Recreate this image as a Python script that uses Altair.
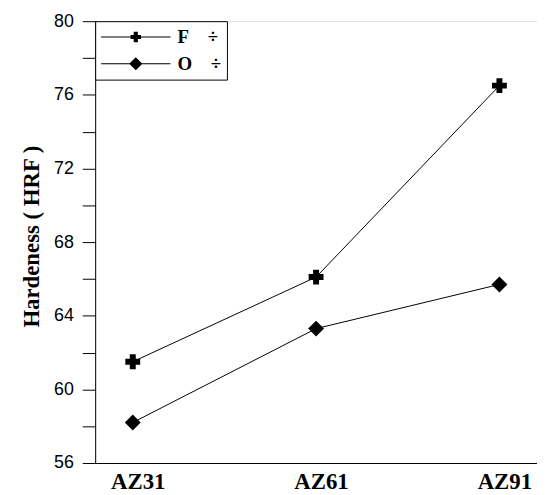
import altair as alt
import pandas as pd

NB = "\u00a0"
EN = "\u2002"
alloys = ["AZ31", "AZ61", "AZ91"]
f_vals = [61.5, 66.1, 76.5]
o_vals = [58.2, 63.3, 65.7]
series = ["F" + NB * 4 + "÷" + EN * 2 + ".", "O" + NB * 4 + "÷" + EN * 2 + "."]
y_ticks = list(range(56, 81, 2))

df = pd.DataFrame({
    "alloy": alloys * 2,
    "hardness": f_vals + o_vals,
    "series": [series[0]] * 3 + [series[1]] * 3,
})

CROSS = "M-1,-0.4H-0.4V-1H0.4V-0.4H1V0.4H0.4V1H-0.4V0.4H-1Z"
DIAMOND = "M-1.07,0L0,-1.07L1.07,0L0,1.07Z"
h = 0.016
LEG_CROSS = (f"M-1,-{h}H1V{h}H-1Z M-0.15,-0.06H-0.06V-0.15H0.06V-0.06H0.15V0.06H0.06V0.15H-0.06V0.06H-0.15Z")
LEG_DIAMOND = f"M-1,-{h}H1V{h}H-1Z M-0.19,0L0,-0.19L0.19,0L0,0.19Z"

x = alt.X(
    "alloy:N", sort=alloys,
    scale=alt.Scale(type="point", padding=0.205),
    axis=alt.Axis(title=None, labelAngle=0, labelFont="Liberation Serif",
                  labelFontWeight="bold", labelFontSize=23, ticks=False,
                  labelPadding=8, domainColor="black", labelColor="black",
                  labelOffset=5),
)
y = alt.Y(
    "hardness:Q",
    scale=alt.Scale(domain=[56, 80], nice=False, zero=False),
    axis=alt.Axis(values=y_ticks,
                  labelExpr="datum.value % 4 == 0 ? datum.label : ''",
                  title="Hardeness ( HRF )", titleFont="Liberation Serif",
                  titleFontSize=23, titleFontWeight="bold", titleColor="black",
                  titleY=217,
                  labelFont="Liberation Sans", labelFontSize=18,
                  labelColor="black", tickSize=13, tickColor="black",
                  domainColor="black", grid=False, labelPadding=9,
                  titlePadding=10),
)

lines = alt.Chart(df).mark_line(color="black", strokeWidth=1).encode(
    x=x, y=y, detail="series:N")

points = alt.Chart(df).mark_point(filled=True, color="black", opacity=1,
                                  size=225).encode(
    x=x, y=y,
    shape=alt.Shape("series:N",
                    scale=alt.Scale(domain=series, range=[CROSS, DIAMOND]),
                    legend=None),
)

legend_layer = alt.Chart(df).transform_filter("false").mark_point(
    filled=True, color="black", opacity=1).encode(
    x=x, y=y,
    shape=alt.Shape(
        "series:N",
        scale=alt.Scale(domain=series, range=[LEG_CROSS, LEG_DIAMOND]),
        legend=alt.Legend(
            title=None, orient="top-left", offset=0, padding=5,
            strokeColor="black", fillColor="white", symbolSize=4900,
            symbolFillColor="black", symbolStrokeWidth=0,
            labelFont="Liberation Serif", labelFontWeight="bold",
            labelFontSize=19, labelColor="black", labelOffset=7,
            labelExpr="replace(datum.label, '.', '')",
            rowPadding=5, clipHeight=22, symbolOffset=1,
        ),
    ),
)

chart = alt.layer(lines, points, legend_layer).resolve_scale(
    shape="independent"
).properties(
    width=446, height=446,
    padding={"left": 12, "top": 2, "right": 0, "bottom": 0},
).configure_view(
    stroke="black", strokeWidth=1
).configure(background="white")

chart.save("out.html", embed_options={"renderer": "svg", "actions": False})
